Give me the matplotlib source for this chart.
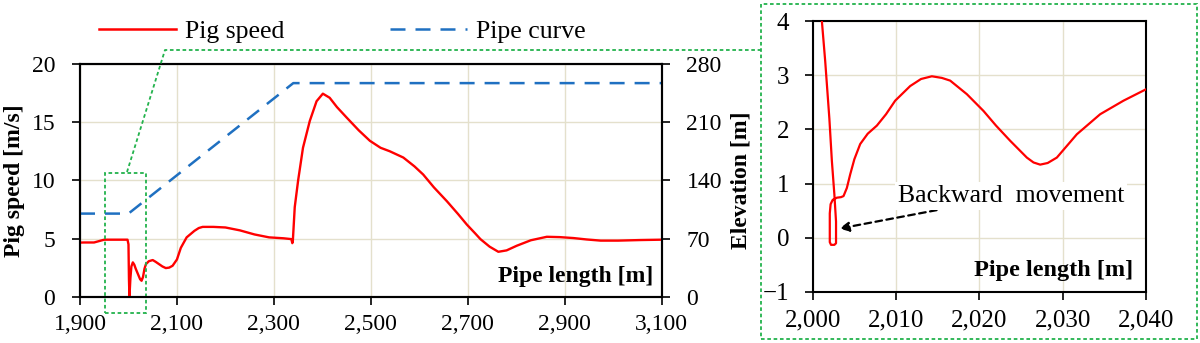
import matplotlib
matplotlib.use("Agg")
import matplotlib.pyplot as plt
from matplotlib.lines import Line2D
from matplotlib.patches import Rectangle

plt.rcParams['font.family'] = ['Liberation Serif', 'DejaVu Serif']

# ---- data ----
pig_x = [1900, 1908, 1929, 1950, 1975, 1998, 2000, 2001, 2002, 2004, 2006, 2009, 2012, 2015,
         2020, 2024, 2027, 2030, 2033, 2036, 2042, 2050, 2056, 2063, 2070, 2077, 2084, 2091,
         2100, 2108, 2120, 2136, 2145, 2153, 2175, 2200, 2230, 2260, 2290, 2320, 2336,
         2338, 2339, 2343, 2350, 2360, 2374, 2388, 2401, 2415, 2430, 2450, 2475, 2498, 2520,
         2539, 2567, 2590, 2608, 2630, 2657, 2680, 2698, 2715, 2726, 2745, 2763, 2780, 2801,
         2830, 2863, 2890, 2918, 2945, 2974, 3010, 3057, 3100]
pig_v = [4.65, 4.66, 4.66, 4.9, 4.9, 4.9, 4.5, 1.5, 0.0, 1.6, 2.6, 2.95, 2.75, 2.4,
         1.9, 1.5, 1.37, 1.7, 2.4, 2.8, 3.05, 3.15, 3.0, 2.8, 2.6, 2.46, 2.5, 2.66,
         3.2, 4.2, 5.1, 5.66, 5.9, 6.0, 6.0, 5.95, 5.7, 5.35, 5.1, 5.02, 4.95,
         4.6, 4.75, 7.7, 10.0, 12.8, 15.1, 16.8, 17.45, 17.1, 16.3, 15.4, 14.3, 13.4, 12.8,
         12.5, 11.96, 11.2, 10.5, 9.4, 8.2, 7.1, 6.2, 5.45, 4.95, 4.3, 3.86, 3.98, 4.38,
         4.85, 5.15, 5.12, 5.04, 4.92, 4.82, 4.82, 4.87, 4.9]

pipe_x = [1900, 2000, 2340, 3100]
pipe_elev = [100, 100, 257, 257]

zoom_x = [2001.1, 2001.5, 2002.0, 2002.3, 2002.6, 2002.8, 2002.8, 2002.6, 2002.2, 2002.05,
          2002.05, 2002.15, 2002.4, 2002.9, 2003.4, 2003.7, 2004.1, 2004.5, 2005.0, 2005.7,
          2006.6, 2007.7, 2008.8, 2009.9, 2011.7, 2013.0, 2014.3, 2015.5, 2016.5, 2018.5,
          2020.5, 2022.0, 2023.7, 2025.7, 2026.5, 2027.3, 2028.2, 2029.3, 2031.7, 2034.5,
          2037.3, 2040.0]
zoom_v = [4.0, 3.26, 2.2, 1.42, 0.8, 0.3, -0.1, -0.13, -0.13, -0.08,
          0.45, 0.62, 0.7, 0.74, 0.75, 0.77, 0.92, 1.17, 1.45, 1.73,
          1.92, 2.07, 2.28, 2.53, 2.8, 2.93, 2.98, 2.95, 2.9, 2.65,
          2.34, 2.07, 1.79, 1.48, 1.39, 1.35, 1.38, 1.48, 1.91, 2.28,
          2.53, 2.74]

main_xticks = [1900, 2100, 2300, 2500, 2700, 2900, 3100]
main_yticks = [0, 5, 10, 15, 20]
elev_ticks = [0, 70, 140, 210, 280]
zoom_xticks = [2000, 2010, 2020, 2030, 2040]
zoom_yticks = [-1, 0, 1, 2, 3, 4]

RED = '#ff0000'
BLUE = '#1f70c1'
GREEN = '#22b24c'
GRID = '#e4e0cc'
FS_TICK = 17
FS_LAB = 17
FS_LEG = 18.5
DOT = (0, (2, 1.5))
TL = 5.8

fig = plt.figure(figsize=(12, 3.43), dpi=100)

def fmt(v):
    return f"{v:,}"

# ---- main axes ----
ax = fig.add_axes([80/1200, 1-296.7/343, 581.7/1200, 232.7/343])
ax.set_xlim(1900, 3100)
ax.set_ylim(0, 20)
ax.set_xticks(main_xticks)
ax.set_xticklabels([fmt(v) for v in main_xticks])
ax.set_yticks(main_yticks)
ax.grid(True, color=GRID, lw=1.0)
ax.set_axisbelow(True)
ax.plot(pig_x, pig_v, color=RED, lw=1.7, zorder=3)
ax.tick_params(axis='y', direction='out', length=TL, width=1.2, labelsize=FS_TICK, pad=12)
ax.tick_params(axis='x', direction='out', length=TL, width=1.2, labelsize=FS_TICK, pad=7)
for s in ax.spines.values():
    s.set_linewidth(1.5)
ax.set_ylabel('Pig speed [m/s]', fontsize=FS_LAB, fontweight='bold', labelpad=5)
ax.text(0.985, 0.04, 'Pipe length [m]', transform=ax.transAxes, ha='right', va='bottom',
        fontsize=FS_LAB, fontweight='bold', zorder=5)

ax2 = ax.twinx()
ax2.set_ylim(0, 280)
ax2.set_yticks(elev_ticks)
ax2.plot(pipe_x, pipe_elev, color=BLUE, lw=1.8, dashes=(6, 4))
ax2.tick_params(direction='out', length=TL, width=1.2, labelsize=FS_TICK, pad=12)
for s in ax2.spines.values():
    s.set_linewidth(1.5)
ax2.set_ylabel('Elevation [m]', fontsize=FS_LAB, fontweight='bold', labelpad=6)

# small zoom rectangle on main axes
rect = Rectangle((1952, -1.37), 85, 12.0, transform=ax.transData, fill=False,
                 ec=GREEN, lw=1.3, ls=DOT, clip_on=False, zorder=6)
ax.add_patch(rect)

# ---- inset axes ----
axz = fig.add_axes([812.7/1200, 1-292/343, 333.3/1200, 271/343])
axz.set_xlim(2000, 2040)
axz.set_ylim(-1, 4)
axz.set_xticks(zoom_xticks)
axz.set_xticklabels([fmt(v) for v in zoom_xticks])
axz.set_yticks(zoom_yticks)
axz.grid(True, color=GRID, lw=1.0)
axz.set_axisbelow(True)
axz.plot(zoom_x, zoom_v, color=RED, lw=1.6, zorder=3)
axz.tick_params(axis='y', direction='out', length=TL, width=1.2, labelsize=FS_TICK + 1, pad=11)
axz.tick_params(axis='x', direction='out', length=TL, width=1.2, labelsize=FS_TICK + 1, pad=7)
for s in axz.spines.values():
    s.set_linewidth(1.5)
axz.text(0.96, 0.04, 'Pipe length [m]', transform=axz.transAxes, ha='right', va='bottom',
         fontsize=FS_LAB + 0.5, fontweight='bold', zorder=5)
axz.annotate('Backward  movement', xy=(2003.2, 0.17), xytext=(2010.2, 0.77),
             fontsize=FS_LEG, va='center', ha='left',
             bbox=dict(boxstyle='square,pad=0.1', fc='white', ec='none'),
             arrowprops=dict(arrowstyle='-|>', color='black', lw=1.6, ls=(0, (3, 2)),
                             mutation_scale=14, shrinkA=2, shrinkB=0))

# inset frame (figure coords)
fig.patches.append(Rectangle((761/1200, 1-339/343), 436/1200, 335/343, transform=fig.transFigure,
                             fill=False, ec=GREEN, lw=1.3, ls=DOT))
# connector lines
fig.lines.append(Line2D([127/1200, 165/1200, 761/1200], [1-172/343, 1-50/343, 1-50/343],
                        transform=fig.transFigure, color=GREEN, lw=1.3, ls=DOT))

# ---- legend ----
handles = [Line2D([], [], color=RED, lw=1.8),
           Line2D([], [], color=BLUE, lw=1.8, dashes=(6, 4))]
fig.legend(handles, ['Pig speed', 'Pipe curve'], loc='center left',
           bbox_to_anchor=(99/1200, 1-32/343), ncol=2, frameon=False, fontsize=FS_LEG,
           handlelength=3.0, handletextpad=0.35, columnspacing=4.1, borderpad=0,
           borderaxespad=0)

fig.savefig('out.png', dpi=100)
